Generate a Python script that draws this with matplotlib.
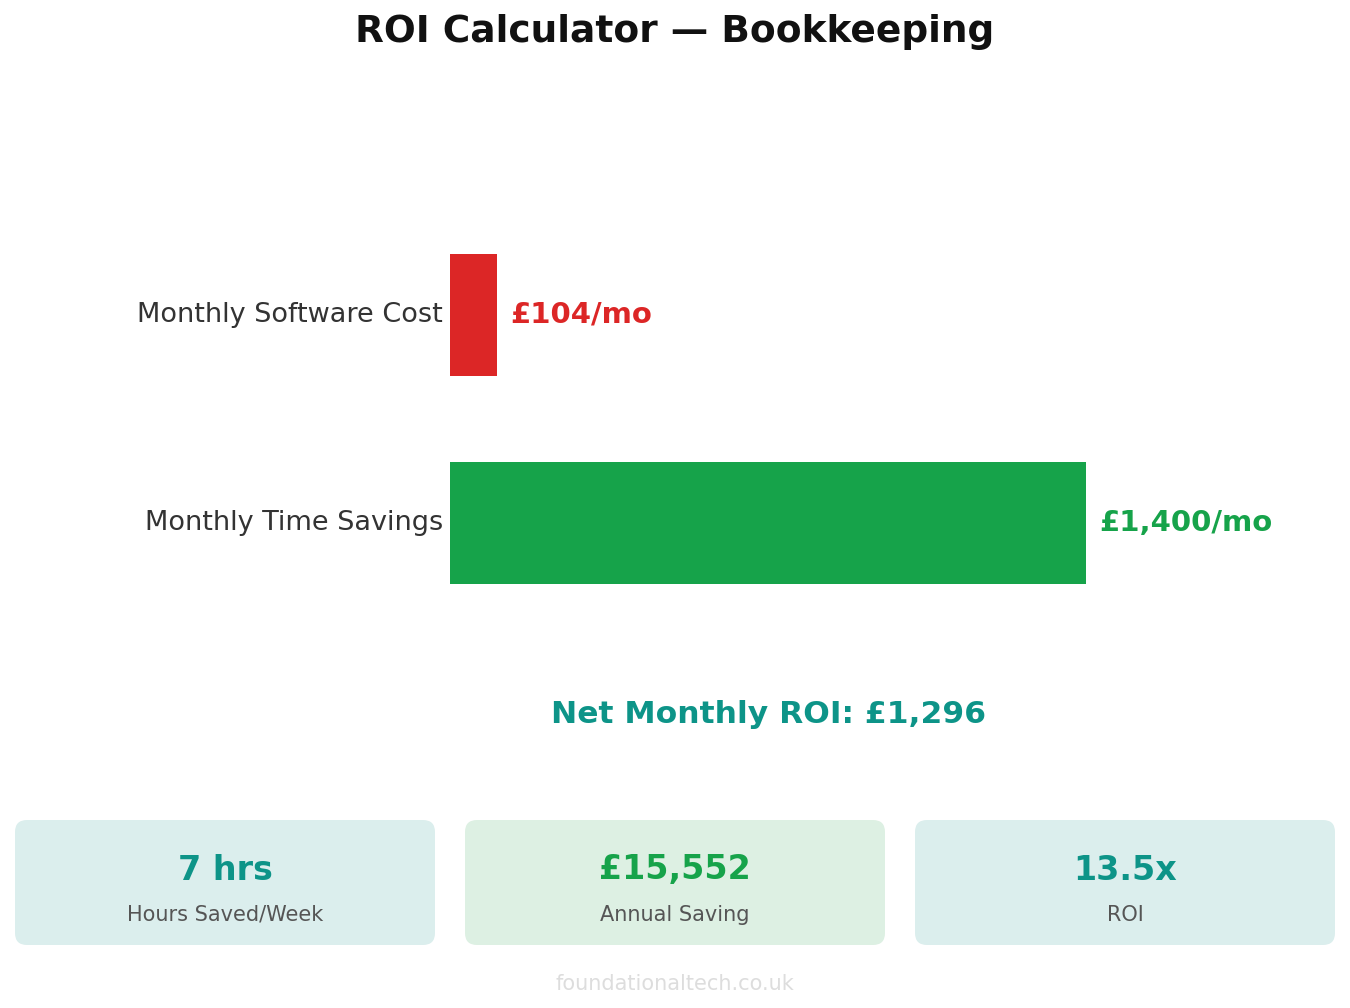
import matplotlib.pyplot as plt
from matplotlib.patches import FancyBboxPatch

# data
categories = ['Monthly Time Savings', 'Monthly Software Cost']
values = [1400, 104]
bar_colors = ['#16a34a', '#dc2626']
value_labels = ['£1,400/mo', '£104/mo']
net_roi = 1296

card_values = ['7 hrs', '£15,552', '13.5x']
card_labels = ['Hours Saved/Week', 'Annual Saving', 'ROI']
card_text_colors = ['#0d9488', '#16a34a', '#0d9488']
card_bg = ['#dbeeed', '#ddf0e3', '#dbeeed']

W, H = 1350, 1008
fig = plt.figure(figsize=(W / 100, H / 100), dpi=100)
fig.patch.set_facecolor('white')

# bar axes (placed in pixel terms)
left, right, top, bottom = 450, 1277, 150, 760
ax = fig.add_axes([left / W, 1 - bottom / H, (right - left) / W, (bottom - top) / H])
ypos = [0, 1]
ax.barh(ypos, values, height=0.585, color=bar_colors)
ax.set_xlim(0, max(values) * 1.3)
ax.set_ylim(-1.14, 1.793)
ax.set_yticks(ypos)
ax.set_yticklabels(categories, fontsize=19.5, color='#333333', va='center')
ax.tick_params(axis='y', length=0, pad=5)
ax.set_xticks([])
for s in ax.spines.values():
    s.set_visible(False)

for y, v, lab, c in zip(ypos, values, value_labels, bar_colors):
    ax.text(v + max(values) * 0.02, y, lab, va='center', ha='left',
            fontsize=21, fontweight='bold', color=c)

ax.text(max(values) / 2, -0.923, f'Net Monthly ROI: £{net_roi:,}', ha='center', va='center',
        fontsize=22.6, fontweight='bold', color='#0d9488')

# overlay for title, cards, footer
ov = fig.add_axes([0, 0, 1, 1], facecolor='none')
ov.set_xlim(0, W)
ov.set_ylim(H, 0)
ov.axis('off')

ov.text(W / 2, 32, 'ROI Calculator — Bookkeeping', ha='center', va='center',
        fontsize=27, fontweight='bold', color='#111111')

card_w, gap, x0 = 420, 30, 15
for i in range(3):
    x = x0 + i * (card_w + gap)
    box = FancyBboxPatch((x, 820), card_w, 125, boxstyle='round,pad=0,rounding_size=12',
                         facecolor=card_bg[i], edgecolor='none')
    ov.add_patch(box)
    cx = x + card_w / 2
    ov.text(cx, 870, card_values[i], ha='center', va='center', fontsize=24,
            fontweight='bold', color=card_text_colors[i])
    ov.text(cx, 915, card_labels[i], ha='center', va='center', fontsize=15, color='#555555')

ov.text(W / 2, 984, 'foundationaltech.co.uk', ha='center', va='center',
        fontsize=15, color='#dddddd')

fig.savefig('out.png', dpi=100)
